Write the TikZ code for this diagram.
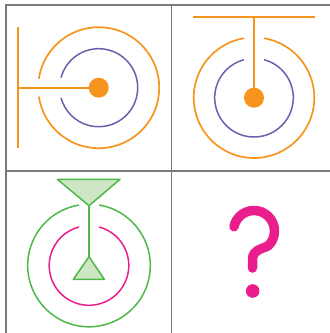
\documentclass[tikz,border=0pt]{standalone}
\usetikzlibrary{calc}
\definecolor{gridgray}{HTML}{7A7A7A}
\definecolor{orng}{HTML}{F7941D}
\definecolor{purp}{HTML}{6A5FAC}
\definecolor{grn}{HTML}{4DB848}
\definecolor{lgrn}{HTML}{CFE6C4}
\definecolor{mag}{HTML}{E91E8C}
\tikzset{
  gridline/.style={draw=gridgray,line width=1.6pt},
  oline/.style={draw=orng,line width=1.7pt},
  pline/.style={draw=purp,line width=1.5pt},
  gline/.style={draw=grn,line width=1.5pt},
  mline/.style={draw=mag,line width=1.5pt},
  tri/.style={draw=grn,fill=lgrn,line width=1.5pt,line join=round},
}
\begin{document}
\begin{tikzpicture}[x=1pt,y=-1pt]
\useasboundingbox (0,0) rectangle (330,333);
% grid
\draw[gridline] (6,333) -- (6,5) -- (330,5);
\draw[gridline] (171.3,5) -- (171.3,333);
\draw[gridline] (6,170.7) -- (330,170.7);

% panel 1
\coordinate (c1) at (98.7,87.7);
\draw[oline] (c1) ++(188.5:60.5) arc (188.5:531.5:60.5);
\draw[pline] (c1) ++(195:39) arc (195:525:39);
\coordinate (v1t) at (18.3,27.3);
\coordinate (v1b) at (18.3,148.3);
\coordinate (h1) at (18.3,87.7);
\draw[oline] (v1t) -- (v1b);
\draw[oline] (h1) -- (c1);
\fill[orng] (c1) circle (10);

% panel 2
\coordinate (c2) at (254,97.7);
\draw[oline] (c2) ++(279.6:60.3) arc (279.6:620.4:60.3);
\draw[pline] (c2) ++(284.7:39.3) arc (284.7:615.3:39.3);
\coordinate (t2l) at (193.3,17.3);
\coordinate (t2r) at (315,17.3);
\coordinate (t2m) at (254,17.3);
\draw[oline] (t2l) -- (t2r);
\draw[oline] (t2m) -- (c2);
\fill[orng] (c2) circle (10);

% panel 3
\coordinate (c3) at (89,265.5);
\draw[gline] (c3) ++(279.4:61.3) arc (279.4:620.6:61.3);
\draw[mline] (c3) ++(284.5:39.8) arc (284.5:615.5:39.8);
\coordinate (ta) at (89,205.7);
\coordinate (ba) at (89,256.7);
\draw[gline] (ta) -- (ba);
\draw[tri] (57.3,179.3) -- (120,179.3) -- (ta) -- cycle;
\draw[tri] (ba) -- (104.3,279.3) -- (73.3,279.3) -- cycle;

% panel 4: question mark
\coordinate (qc) at (254,231);
\draw[draw=mag,line width=9.5pt,line cap=round,line join=round]
  (qc) ++(192:20.5) arc (192:405:20.5)
  .. controls (266,248) and (252.5,249) .. (252.5,259) -- (252.5,268);
\fill[mag] (252.7,291) circle (6.8);
\end{tikzpicture}
\end{document}
